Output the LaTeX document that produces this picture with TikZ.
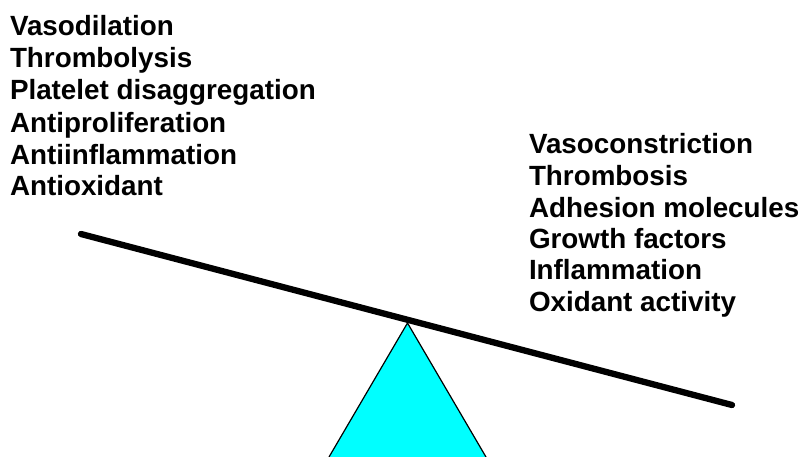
\documentclass[tikz,border=0pt]{standalone}
\usepackage{fontspec}
\setmainfont{Liberation Sans}
\definecolor{fulcrumcyan}{RGB}{0,255,255}
\begin{document}
\begin{tikzpicture}[x=1pt,y=-1pt,
  lbl/.style={anchor=base west,inner sep=0pt,outer sep=0pt,font=\fontsize{27.8}{32}\selectfont\bfseries},
  beam/.style={line width=6.3pt,line cap=round},
  fulcrum/.style={draw=black,line width=1.2pt,fill=fulcrumcyan,line join=miter}]
\useasboundingbox (0,0) rectangle (804,456);
\clip (0,0) rectangle (804,456);
% fulcrum
\coordinate (apex) at (407.5,323);
\coordinate (bl) at (329,457);
\coordinate (br) at (486,457);
\filldraw[fulcrum] (bl) -- (apex) -- (br);
% beam
\coordinate (bL) at (81,234);
\coordinate (bR) at (732,405);
\draw[beam] (bL) -- (bR);
% left list
\node[lbl] (l1) at (10,35) {Vasodilation};
\node[lbl] (l2) at (10,67) {Thrombolysis};
\node[lbl] (l3) at (10,99.5) {Platelet disaggregation};
\node[lbl] (l4) at (10,132) {Antiproliferation};
\node[lbl] (l5) at (10,164) {Antiinflammation};
\node[lbl] (l6) at (10,195.5) {Antioxidant};
% right list
\node[lbl] (r1) at (529,153) {Vasoconstriction};
\node[lbl] (r2) at (529,185) {Thrombosis};
\node[lbl] (r3) at (529,217) {Adhesion molecules};
\node[lbl] (r4) at (529,248) {Growth factors};
\node[lbl] (r5) at (529,279) {Inflammation};
\node[lbl] (r6) at (529,311) {Oxidant activity};
\end{tikzpicture}
\end{document}
